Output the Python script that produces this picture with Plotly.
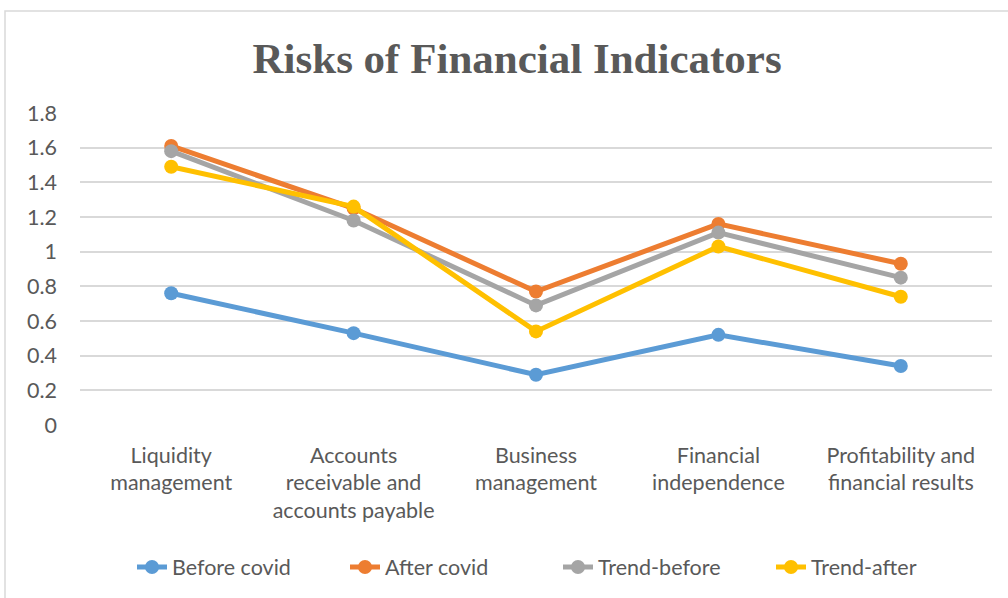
import plotly.graph_objects as go

categories = ["Liquidity<br>management",
              "Accounts<br>receivable and<br>accounts payable",
              "Business<br>management",
              "Financial<br>independence",
              "Profitability and<br>financial results"]
before_covid = [0.76, 0.53, 0.29, 0.52, 0.34]
after_covid = [1.61, 1.25, 0.77, 1.16, 0.93]
trend_before = [1.58, 1.18, 0.69, 1.11, 0.85]
trend_after = [1.49, 1.26, 0.54, 1.03, 0.74]
y_ticks = [0, 0.2, 0.4, 0.6, 0.8, 1, 1.2, 1.4, 1.6, 1.8]

series = [("Before covid", before_covid, "#5b9bd5"),
          ("After covid", after_covid, "#ed7d31"),
          ("Trend-before", trend_before, "#a5a5a5"),
          ("Trend-after", trend_after, "#ffc000")]

font_fam = "Lato, 'Open Sans', sans-serif"
txt_col = "#595959"
fig = go.Figure()
for name, vals, col in series:
    fig.add_trace(go.Scatter(x=categories, y=vals, name=name, mode="lines+markers",
                             line=dict(color=col, width=5),
                             marker=dict(color=col, size=14)))

fig.update_layout(
    width=1008, height=598,
    margin=dict(l=80, r=16, t=113, b=173, autoexpand=False),
    paper_bgcolor="white", plot_bgcolor="white",
    title=dict(text="<b>Risks of Financial Indicators</b>",
               font=dict(family="'Liberation Serif', 'Times New Roman', serif", size=43, color=txt_col),
               x=0.513, xanchor="center", y=1 - 58 / 598, yanchor="middle"),
    font=dict(family=font_fam, size=21.5, color=txt_col),
    showlegend=True,
    legend=dict(orientation="h", x=(132 - 80) / 912, xanchor="left", y=(425 - 567) / 312, yanchor="middle",
                font=dict(size=21.5, color=txt_col), entrywidth=168, tracegroupgap=0),
    xaxis=dict(range=[-0.5, 4.5], showgrid=False, showline=False, zeroline=False, ticks="",
               tickfont=dict(size=21.5, color=txt_col), ticklabelstandoff=15, automargin=False),
    yaxis=dict(range=[0, 1.8], tickvals=y_ticks, ticktext=[f"{v:g}" for v in y_ticks],
               showgrid=True, gridcolor="#d9d9d9", gridwidth=1.5,
               zeroline=False, showline=False, ticks="", automargin=False,
               tickfont=dict(size=21.5, color=txt_col), ticklabelstandoff=22),
    shapes=[dict(type="rect", xref="paper", yref="paper",
                 x0=-75 / 912, x1=1.03, y0=-0.6, y1=(425 - 11) / 312,
                 line=dict(color="#d9d9d9", width=1.5), fillcolor="rgba(0,0,0,0)", layer="below")],
)
fig.write_html("out.html", config={"displayModeBar": False},
               post_script="document.body.style.margin='0';document.body.style.overflow='hidden';")
